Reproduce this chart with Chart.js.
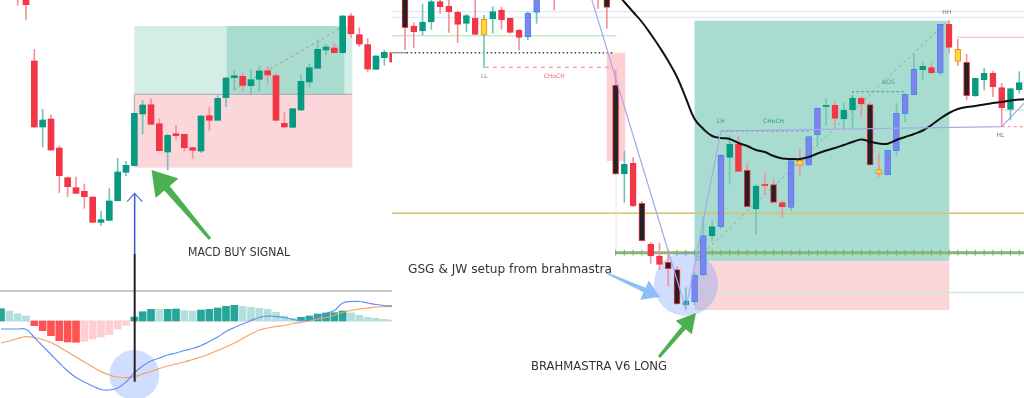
<!DOCTYPE html>
<html>
<head>
<meta charset="utf-8">
<script src="https://cdn.jsdelivr.net/npm/chart.js@4.4.1/dist/chart.umd.min.js"></script>
<style>
  html, body { margin: 0; padding: 0; background: #fff; }
  #wrap { position: relative; width: 1024px; height: 398px; overflow: hidden; background: #fff; }
  canvas { position: absolute; top: 0; }
  #left { left: 0; }
  #right { left: 392px; }
</style>
</head>
<body>
<div id="wrap">
  <canvas id="left" width="392" height="398"></canvas>
  <canvas id="right" width="632" height="398"></canvas>
</div>
<script>
// ---- left chart: candles start at index -1 ----
const lStart = -1;
const lOpen  = [430, 406, 339, 273, 281, 252, 222.3, 212.3, 208.7, 203, 177.7, 179.7, 199.3, 227.7, 234.3, 286, 295.3, 276.3, 248, 266.3, 265.7, 252.3, 249, 284.3, 279.7, 302.3, 322.3, 323.7, 314.3, 320.7, 329.3, 324.3, 276.7, 272.7, 290, 318, 331.7, 350, 352, 347.3, 384, 365.3, 355.3, 330.7, 342.3, 347.3];
const lClose = [410, 395.3, 273, 280, 250, 224.3, 213.3, 206.7, 203.3, 177.7, 180.3, 199, 228, 234.7, 286.7, 295, 275.7, 249.3, 264.7, 264.3, 252.3, 249.7, 284, 279.7, 301.7, 322, 324.3, 314.7, 320.3, 329, 325, 279.7, 273, 291.3, 318.7, 332.3, 350.7, 353, 347.3, 384, 366.3, 356, 331, 344, 347.7, 338];
const lHigh  = [435, 410, 350.7, 291, 285, 254, 223, 223, 216, 203, 189, 211.3, 241.7, 238.7, 287, 299.3, 301.3, 281.3, 266, 274.3, 266, 252.5, 284.5, 292.3, 304.3, 322.5, 329.3, 327, 330.3, 333.3, 333.7, 326.7, 287.3, 291.5, 325.3, 336, 360.3, 355.7, 356.3, 384.5, 386.3, 372.3, 361.3, 344.3, 350, 347.5];
const lLow   = [394.7, 380.7, 272.5, 253, 249.5, 207.3, 203.3, 206.5, 191.7, 177.5, 174.3, 179.5, 199, 224.3, 234, 266, 275.5, 249, 230, 260.7, 249, 241.7, 247.3, 269, 279.5, 293.3, 309.7, 309, 305, 308.3, 316, 279.5, 272.7, 272.5, 289.7, 312.7, 331.5, 345, 347, 347, 362.7, 353.3, 328.7, 330.5, 334.7, 337.5];

// MACD panel: bars start at index -3
const macdStart = -3;
const macdHist = [12.3, 10, 7.3, 5, -4.7, -9.7, -14.7, -19.7, -21, -21.3, -20.3, -18, -16, -13.7, -8, -4.3, 4, 9.3, 11.7, 11.5, 11.7, 12, 10.3, 10, 11, 11.7, 13, 14.7, 15.7, 14.7, 13.7, 12.7, 11.7, 8.7, 5, 2.7, 3.7, 5, 7, 8, 8.3, 10, 8, 5.7, 3.7, 2.7, 1.7, 1];
const macdLine = [-8, -8, -8, -8.3, -16.5, -25, -33.5, -42, -50, -56.5, -61, -65, -68.5, -69, -67, -61, -52, -45, -40, -37, -34, -32, -29.5, -27.5, -24.5, -20.5, -16, -10.5, -6.5, -3, 0.5, 3.5, 5, 4.5, 3.5, 1.5, 0.5, 1, 4, 7.5, 10.5, 18, 19.5, 19.5, 18, 16.5, 15.5, 15];
const macdSignal = [-22, -20, -17.5, -15.7, -16.5, -18.5, -21.5, -26, -31, -36, -41, -46, -50.5, -54, -56, -56.7, -55.7, -53, -50.5, -47.5, -45, -43, -41, -38.5, -36, -33, -29.5, -26, -22, -17.5, -13, -9, -7, -5.5, -4.5, -2.5, -1.5, 0, 2, 3.5, 6, 8.5, 10.5, 12, 13, 14, 14.3, 14.5];

// ---- right chart: candles start at index 0 ----
const rOpen  = [410, 374, 369, 378, 398.3, 394, 387.7, 376.7, 381.7, 365, 381, 390, 381.7, 370, 363.3, 387.7, 405, 430, 420, 445, 440, 430, 425, 425, 315, 226, 236.7, 196.7, 156, 144, 137.7, 130.3, 95, 98.3, 125, 164, 173.3, 242.7, 255.7, 229.7, 191, 216, 215.3, 197.3, 192.7, 239.7, 235, 265.3, 293, 294.7, 281, 290, 301.7, 295.3, 230.3, 225.3, 249.3, 286.3, 305.3, 330.3, 332.3, 327, 375.7, 350.7, 337.7, 304, 320, 327, 312.3, 290.7, 310];
const rClose = [372.3, 368.3, 378, 398.3, 393.3, 388.3, 375.7, 384.3, 365.7, 380.7, 388.3, 380, 367.7, 362.7, 386.7, 405, 435, 403, 440, 425, 415, 412, 403, 392.7, 226, 235.7, 194.3, 159.3, 144, 135.7, 131.3, 96, 99, 124.7, 164.3, 173.3, 245, 256, 228.7, 193.3, 214, 214, 197.7, 193.3, 239.3, 234.7, 263.3, 291.7, 295, 281.7, 290, 301.7, 296, 235, 226, 249.7, 286.7, 306, 330.7, 333.7, 327, 375.7, 352.7, 338.7, 304.3, 321.7, 326.7, 313.3, 292.3, 311.3, 317.3];
const rHigh  = [415, 377.3, 396, 400, 403, 403, 389, 385.7, 403, 384.7, 393.3, 392.7, 382, 370.5, 388.3, 408, 440, 435, 445, 448, 442, 432, 428, 430, 330, 249, 242.3, 198.3, 157.7, 156.7, 146.7, 133.3, 112.3, 128, 183.3, 179, 245.5, 264.3, 263.3, 237, 216, 226.7, 220.7, 199.3, 239.5, 251, 263.5, 292, 301.7, 299, 296.7, 303.3, 303.3, 298, 246.7, 250, 296.7, 306.3, 346, 338.3, 336.7, 376, 379.3, 360.7, 345.7, 322, 331.7, 328.7, 316.7, 311.5, 328.3];
const rLow   = [350.7, 352.3, 365, 370.7, 386.7, 367.7, 357.3, 368.3, 365.5, 332.7, 366.7, 370.7, 366.7, 350, 360, 376.7, 406, 390, 415, 418, 410, 408, 391.7, 371.7, 225.5, 197.7, 193.3, 159, 136.7, 130.7, 114, 95.5, 91, 95, 124.5, 159.3, 171.3, 215.7, 228.5, 193, 165.7, 205, 197, 182.7, 189.3, 225, 234.5, 253.3, 275, 274.3, 270, 272.7, 283.3, 234.5, 223.3, 225, 245, 278.3, 305, 320, 326.7, 325, 347.3, 334.7, 300, 303.7, 310, 303.3, 273.3, 280, 306.7];
// bar colouring signal of the indicator: g green, r red, k black, p purple, y yellow
const rSignal = 'krggrrrgry' + 'grrrppprgr' + 'krrkkgrkrr' + 'kkgppgpgrk' + 'grkrpyppgr' + 'ggrkyppppg' + 'rprykggrrgg';
// moving average, starts at index 22
const maStart = 22;
const maLine = [430, 419, 408, 398, 388, 378, 366, 353, 339, 323, 302, 281, 271, 264, 262, 261, 257, 254, 250, 248, 244, 241.5, 241, 241, 243, 246.5, 249.5, 252, 255, 258, 260.5, 258.3, 256.5, 256.3, 260, 263, 266, 269.5, 275, 281.5, 287, 291, 293, 294, 295.5, 297, 298, 299.5, 300.5, 301];

// ---- colours ----
const UP = '#089981', DOWN = '#f23645', UPW = '#72c6b5', DOWNW = '#f4929b';
const SIG = { g: ['#089981', '#089981'], r: ['#f23645', '#f23645'], k: ['#222222', '#f23645'], p: ['#8181f2', '#3e92dc'], y: ['#fdd835', '#f08a24'] };

// ---- annotations (x = bar index, y = price) ----
const shapes = {
  left: {
    under: [
      { t: 'box', x0: 13.0, x1: 39.16, y0: 305.7, y1: 374, fill: '#d3eee7' },
      { t: 'box', x0: 24.08, x1: 38.2, y0: 305.7, y1: 374, fill: '#a9dccf' },
      { t: 'box', x0: 13.0, x1: 39.16, y0: 232.3, y1: 305.7, fill: '#fbd7db' },
      { t: 'line', pts: [[13.0, 305.7], [39.16, 305.7]], color: '#a9a9a9', w: 1 },
      { t: 'line', pts: [[13.0, 305.7], [13.0, 287]], color: '#a9a9a9', w: 1 },
      { t: 'line', pts: [[24.88, 310], [37.88, 372.3]], color: '#9c9c9c', w: 1, dash: [3, 3] },
      { t: 'line', pts: [[-3.2, 109], [44, 109]], color: '#9a9a9a', w: 1.2 },
      { t: 'line', pts: [[-3.2, 0], [44, 0]], ax: 'y2', color: '#cfcfcf', w: 1, dash: [2, 2] },
      { t: 'circle', x: 13.0, y: 25, r: 25, fill: 'rgba(110,150,245,0.32)' }
    ],
    over: [
      { t: 'line', pts: [[13.04, 206.7], [13.04, 146]], color: '#3457d5', w: 1.5 },
      { t: 'line', pts: [[12.14, 198.3], [13.04, 206.7], [13.94, 198.3]], color: '#4a6ae0', w: 1.2 },
      { t: 'line', pts: [[13.04, 146], [13.04, 18.3]], color: '#222', w: 2 },
      { t: 'arrow', from: [22.08, 161], to: [15.06, 230], head: 24, headW: 30, shaft: 7, tail: 3, fill: '#4caf50' },
      { t: 'text', x: 19.44, y: 147, s: 'MACD BUY SIGNAL', size: 12, w: 102, color: '#333' }
    ]
  },
  right: {
    under: [
      { t: 'box', x0: 33.0, x1: 62.03, y0: 138.7, y1: 379.3, fill: '#a8dcd1' },
      { t: 'box', x0: 33.0, x1: 62.03, y0: 90, y1: 138.7, fill: '#fbd7db' },
      { t: 'box', x0: 22.99, x1: 25.1, y0: 239, y1: 347.3, fill: 'rgba(242,54,69,0.24)' },
      { t: 'line', pts: [[-1.6, 388.3], [71, 388.3]], color: '#d3e4fa', w: 1 },
      { t: 'line', pts: [[-1.6, 382.7], [71, 382.7]], color: '#d3e4fa', w: 1 },
      { t: 'line', pts: [[-1.6, 364.3], [24.1, 364.3]], color: '#c4ebc4', w: 1.5 },
      { t: 'line', pts: [[-1.6, 347.3], [0.19, 347.3]], color: '#999', w: 1.5 },
      { t: 'line', pts: [[0.19, 347.3], [23.8, 347.3]], color: '#444', w: 1.5, dash: [1.5, 2.5] },
      { t: 'line', pts: [[9.1, 332.7], [23.55, 332.7]], color: '#f0868e', w: 1, dash: [4, 4] },
      { t: 'line', pts: [[-1.6, 186.7], [71, 186.7]], color: '#d6c173', w: 1.5 },
      { t: 'line', pts: [[24.05, 240], [24.05, 148]], color: '#e4e4e4', w: 1 },
      { t: 'line', pts: [[23.95, 147.3], [71, 147.3]], color: '#86b874', w: 3 },
      { t: 'ticks', x0: 24, x1: 70, y: 147.3, h: 6, color: '#7aae68' },
      { t: 'line', pts: [[33.6, 107.5], [71, 107.5]], color: '#c9ecc9', w: 1.5 },
      { t: 'line', pts: [[62.9, 362.7], [71, 362.7]], color: '#f7c6cb', w: 1.2 },
      { t: 'line', pts: [[68, 290], [71, 290]], color: '#c9ecc9', w: 1.2 },
      { t: 'line', pts: [[33.01, 138.7], [61.73, 378.3]], color: '#8fa8a2', w: 1, dash: [3, 3] },
      { t: 'circle', x: 32.02, y: 116, r: 32, fill: 'rgba(110,150,245,0.32)' }
    ],
    over: [
      { t: 'line', pts: [[20.51, 423], [32, 91], [36, 269], [68, 273.3], [70.8, 299]], color: '#aaa6ee', w: 1.2 },
      { t: 'line', pts: [[36, 269], [46.15, 269]], color: '#7f95d6', w: 1.2, dash: [3, 2] },
      { t: 'line', pts: [[68, 273.3], [71, 273.3]], color: '#f0868e', w: 1, dash: [3, 3] },
      { t: 'line', pts: [[51, 302], [51, 308.3], [57, 308.3]], color: '#3aa58e', w: 1, dash: [3, 2] },
      { t: 'text', x: 9.04, y: 324, s: 'LL', size: 6, color: '#888', align: 'center' },
      { t: 'text', x: 17.0, y: 324, s: 'CHoCH', size: 6, color: '#f06a72', align: 'center' },
      { t: 'text', x: 36, y: 278.3, s: 'LH', size: 6, color: '#777', align: 'center' },
      { t: 'text', x: 42, y: 278.3, s: 'CHoCH', size: 6, color: '#2a9f89', align: 'center' },
      { t: 'text', x: 55.1, y: 317.3, s: 'BOS', size: 6, color: '#4a9a8a', align: 'center' },
      { t: 'text', x: 67.85, y: 265, s: 'HL', size: 6, color: '#777', align: 'center' },
      { t: 'text', x: 61.75, y: 388, s: 'HH', size: 6, color: '#777', align: 'center' },
      { t: 'arrow', from: [22.96, 127], to: [29.06, 103], head: 17, headW: 21, shaft: 5, tail: 1.5, fill: '#8fbff7' },
      { t: 'arrow', from: [28.95, 43], to: [33.16, 87], head: 19, headW: 21, shaft: 5, tail: 3, fill: '#4caf50' },
      { t: 'text', x: 0.34, y: 130, s: 'GSG & JW setup from brahmastra', size: 12.5, w: 204, color: '#333' },
      { t: 'text', x: 14.36, y: 33, s: 'BRAHMASTRA V6 LONG', size: 12.5, w: 136, color: '#333' }
    ]
  }
};

function paint(chart, list) {
  const ctx = chart.ctx, sx = chart.scales.x;
  const P = (x, y, ax) => [sx.getPixelForValue(x), chart.scales[ax || 'y'].getPixelForValue(y)];
  ctx.save();
  for (const s of list) {
    ctx.setLineDash(s.dash || []);
    if (s.t === 'box') {
      const [x0, y0] = P(s.x0, s.y0), [x1, y1] = P(s.x1, s.y1);
      ctx.fillStyle = s.fill;
      ctx.fillRect(x0, y1, x1 - x0, y0 - y1);
    } else if (s.t === 'line') {
      ctx.strokeStyle = s.color; ctx.lineWidth = s.w || 1;
      ctx.beginPath();
      s.pts.forEach((p, i) => { const [a, b] = P(p[0], p[1], s.ax); i ? ctx.lineTo(a, b) : ctx.moveTo(a, b); });
      ctx.stroke();
    } else if (s.t === 'ticks') {
      ctx.strokeStyle = s.color; ctx.lineWidth = 1;
      ctx.beginPath();
      for (let i = s.x0; i <= s.x1; i++) {
        const [a, b] = P(i, s.y);
        ctx.moveTo(a, b - s.h / 2); ctx.lineTo(a, b + s.h / 2);
      }
      ctx.stroke();
    } else if (s.t === 'circle') {
      const [a, b] = P(s.x, s.y);
      ctx.fillStyle = s.fill;
      ctx.beginPath(); ctx.arc(a, b, s.r, 0, Math.PI * 2); ctx.fill();
    } else if (s.t === 'arrow') {
      const [x0, y0] = P(s.from[0], s.from[1]), [x1, y1] = P(s.to[0], s.to[1]);
      const L = Math.hypot(x1 - x0, y1 - y0), ux = (x1 - x0) / L, uy = (y1 - y0) / L, nx = -uy, ny = ux;
      const bx = x1 - ux * s.head, by = y1 - uy * s.head;
      ctx.fillStyle = s.fill;
      ctx.beginPath();
      ctx.moveTo(x0 + nx * s.tail / 2, y0 + ny * s.tail / 2);
      ctx.lineTo(bx + nx * s.shaft / 2, by + ny * s.shaft / 2);
      ctx.lineTo(bx + nx * s.headW / 2, by + ny * s.headW / 2);
      ctx.lineTo(x1, y1);
      ctx.lineTo(bx - nx * s.headW / 2, by - ny * s.headW / 2);
      ctx.lineTo(bx - nx * s.shaft / 2, by - ny * s.shaft / 2);
      ctx.lineTo(x0 - nx * s.tail / 2, y0 - ny * s.tail / 2);
      ctx.closePath(); ctx.fill();
    } else if (s.t === 'text') {
      const [a, b] = P(s.x, s.y);
      ctx.font = s.size + 'px "DejaVu Sans", sans-serif';
      ctx.fillStyle = s.color; ctx.textBaseline = 'middle';
      ctx.textAlign = s.align || 'left';
      const k = s.w ? s.w / ctx.measureText(s.s).width : 1;
      ctx.translate(a, b); ctx.scale(k, 1);
      ctx.fillText(s.s, 0, 0);
      ctx.setTransform(1, 0, 0, 1, 0, 0);
    }
  }
  ctx.restore();
}

const annotate = {
  id: 'annotate',
  beforeDatasetsDraw(chart) { paint(chart, shapes[chart.canvas.id].under); },
  afterDatasetsDraw(chart) { paint(chart, shapes[chart.canvas.id].over); }
};

function baseOptions(xmin, xmax, extraScales) {
  return {
    responsive: false, animation: false, events: [], devicePixelRatio: 1,
    layout: { padding: 0 },
    plugins: { legend: { display: false }, tooltip: { enabled: false } },
    scales: Object.assign({
      x: { type: 'linear', min: xmin, max: xmax, display: false, offset: false, grid: { offset: false } },
      y: { type: 'linear', min: 2, max: 400, display: false, beginAtZero: false }
    }, extraScales || {})
  };
}

// ---- left chart ----
const lWicks = lOpen.map((o, i) => ({ x: lStart + i, y: [lLow[i], lHigh[i]] }));
const lBodies = lOpen.map((o, i) => ({ x: lStart + i, y: [o, lClose[i]] }));
const lUp = lOpen.map((o, i) => lClose[i] >= o);
const histColors = macdHist.map((v, i) => {
  const prev = i ? macdHist[i - 1] : -Infinity;
  if (v >= 0) return v > prev ? '#26a69a' : '#b2dfdb';
  return v < prev ? '#ff5252' : '#ffcdd2';
});

new Chart(document.getElementById('left'), {
  type: 'bar',
  data: {
    datasets: [
      { type: 'line', data: macdLine.map((v, i) => ({ x: macdStart + i, y: v })), yAxisID: 'y2',
        borderColor: '#5f8ff6', borderWidth: 1.2, pointRadius: 0, tension: 0.4, order: 1 },
      { type: 'line', data: macdSignal.map((v, i) => ({ x: macdStart + i, y: v })), yAxisID: 'y2',
        borderColor: '#f6a25e', borderWidth: 1.2, pointRadius: 0, tension: 0.4, order: 1 },
      { data: macdHist.map((v, i) => ({ x: macdStart + i, y: v })), yAxisID: 'y2',
        backgroundColor: histColors, barThickness: 7, grouped: false, order: 5 },
      { data: lBodies, backgroundColor: lUp.map(u => u ? UP : DOWN), barThickness: 6,
        grouped: false, borderSkipped: false, order: 2 },
      { data: lWicks, backgroundColor: lUp.map(u => u ? UPW : DOWNW), barThickness: 1,
        grouped: false, order: 3 }
    ]
  },
  options: baseOptions(-3.12, 43.92, { y2: { type: 'linear', min: -77, max: 321, display: false } }),
  plugins: [annotate]
});

// ---- right chart ----
const rUp = rOpen.map((o, i) => rClose[i] >= o);
new Chart(document.getElementById('right'), {
  type: 'bar',
  data: {
    datasets: [
      { type: 'line', data: maLine.map((v, i) => ({ x: maStart + i, y: v })),
        borderColor: '#111', borderWidth: 2, pointRadius: 0, tension: 0.4, order: 1 },
      { data: rOpen.map((o, i) => ({ x: i, y: [o, rClose[i]] })),
        backgroundColor: [...rSignal].map(c => SIG[c][0]), borderColor: [...rSignal].map(c => SIG[c][1]),
        borderWidth: 1, borderSkipped: false, barThickness: 6, grouped: false, order: 2 },
      { data: rOpen.map((o, i) => ({ x: i, y: [rLow[i], rHigh[i]] })),
        backgroundColor: rUp.map(u => u ? UPW : DOWNW), barThickness: 1, grouped: false, order: 3 }
    ]
  },
  options: baseOptions(-1.4815, 70.54),
  plugins: [annotate]
});
</script>
</body>
</html>
